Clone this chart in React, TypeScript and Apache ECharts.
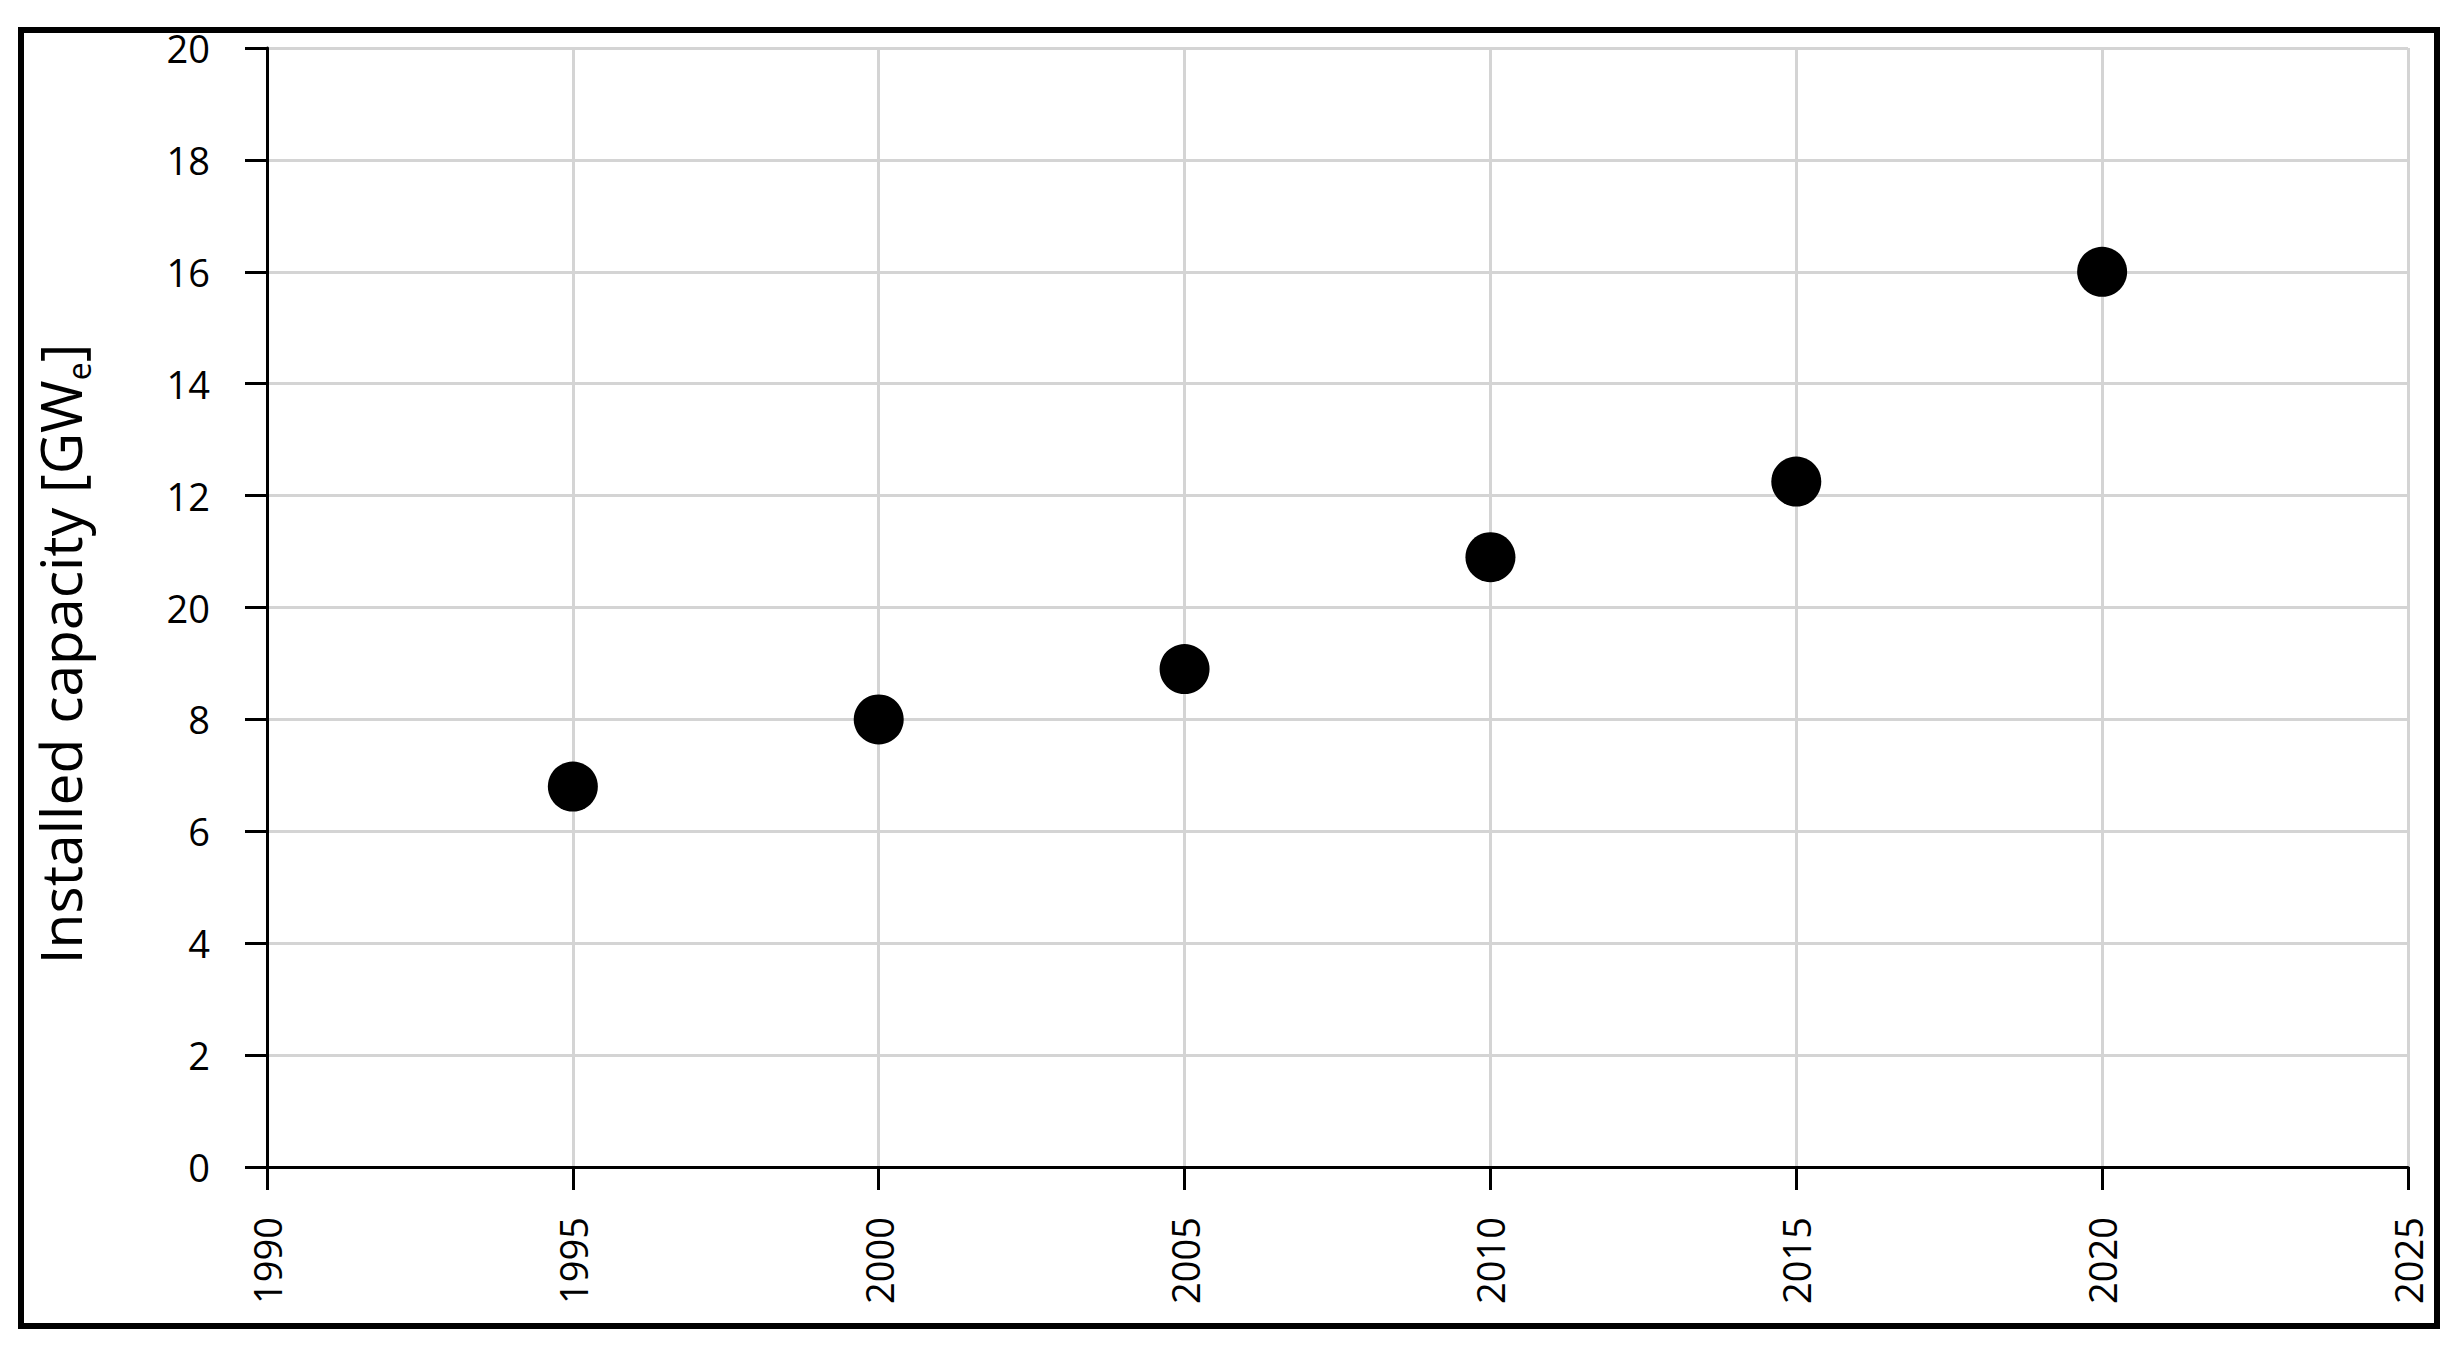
import React, { useEffect, useRef } from "react";
import * as echarts from "echarts";

const years = [1995, 2000, 2005, 2010, 2015, 2020];
const capacity = [6.8, 8.0, 8.9, 10.9, 12.25, 16.0];
const yTickLabels = ["0", "2", "4", "6", "8", "20", "12", "14", "16", "18", "20"];
const xTickLabels = ["1990", "1995", "2000", "2005", "2010", "2015", "2020", "2025"];

export default function App() {
  const ref = useRef<HTMLDivElement>(null);
  useEffect(() => {
    if (!ref.current) return;
    const chart = echarts.init(ref.current, null, { renderer: "svg" });
    const font = "'Open Sans', 'Noto Sans', sans-serif";
    chart.setOption({
      animation: false,
      backgroundColor: "#ffffff",
      grid: { left: 267, top: 48, right: 54, bottom: 193 },
      xAxis: {
        type: "value",
        min: 1990,
        max: 2025,
        interval: 5,
        axisLine: { show: true, onZero: false, lineStyle: { color: "#000", width: 3 } },
        axisTick: { show: true, length: 23, lineStyle: { color: "#000", width: 3 } },
        splitLine: { show: true, lineStyle: { color: "#d4d4d4", width: 3 } },
        axisLabel: {
          rotate: 90,
          margin: 50,
          color: "#000",
          fontFamily: font,
          fontSize: 38,
          formatter: (v: number) => xTickLabels[Math.round((v - 1990) / 5)] ?? "",
        },
      },
      yAxis: {
        type: "value",
        min: 0,
        max: 20,
        interval: 2,
        axisLine: { show: true, lineStyle: { color: "#000", width: 3 } },
        axisTick: { show: true, length: 22, lineStyle: { color: "#000", width: 3 } },
        splitLine: { show: true, lineStyle: { color: "#d4d4d4", width: 3 } },
        axisLabel: {
          margin: 57,
          color: "#000",
          fontFamily: font,
          fontSize: 38,
          formatter: (v: number) => yTickLabels[Math.round(v / 2)] ?? "",
        },
      },
      series: [
        {
          type: "scatter",
          data: years.map((y, i) => [y, capacity[i]]),
          symbol: "circle",
          symbolSize: 50,
          itemStyle: { color: "#000", opacity: 1 },
          z: 5,
        },
      ],
      graphic: [
        {
          type: "rect",
          shape: { x: 21, y: 30, width: 2416, height: 1296 },
          style: { fill: "none", stroke: "#000", lineWidth: 6 },
          z: 100,
        },
        {
          type: "text",
          x: 60,
          y: 654,
          rotation: Math.PI / 2,
          style: {
            text: "{a|Installed capacity [GW}{s|e}{a|]}",
            align: "center",
            verticalAlign: "middle",
            rich: {
              a: { fontSize: 57, fontFamily: font, fill: "#000", lineHeight: 68 },
              s: { fontSize: 32, fontFamily: font, fill: "#000", lineHeight: 68, verticalAlign: "bottom", padding: [22, 0, 0, 0] },
            },
          },
          z: 100,
        },
      ],
    });
    return () => chart.dispose();
  }, []);
  return (
    <div
      ref={ref}
      style={{ position: "fixed", left: 0, top: 0, width: 2462, height: 1360, background: "#fff" }}
    />
  );
}
